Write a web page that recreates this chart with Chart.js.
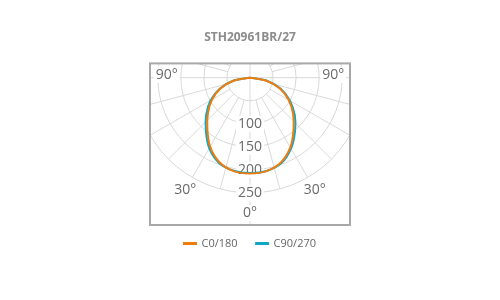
<!DOCTYPE html>
<html>
<head>
<meta charset="utf-8">
<script src="https://cdn.jsdelivr.net/npm/chart.js@4.4.1/dist/chart.umd.min.js"></script>
<style>
html, body { margin: 0; padding: 0; background: #fff; }
</style>
</head>
<body>
<canvas id="chart" width="500" height="300"></canvas>
<script>
const chartTitle = 'STH20961BR/27';

// gamma angle from nadir (deg) and intensity (cd) for each half-plane
const gammaDeg = [0, 10, 20, 30, 40, 50, 60, 70, 80, 90];
const c0 = [208, 206, 196, 175, 147, 122, 97, 69, 35, 0];
const c180 = [208, 206, 195, 173, 144, 119, 95, 68, 35, 0];
const c90 = [207, 206, 198, 178, 152, 127, 100, 71, 36, 0];
const c270 = [207, 205, 197, 177, 149, 124, 99, 70, 36, 0];

const ringValues = [50, 100, 150, 200, 250];
const ringLabels = ['100', '150', '200', '250'];
const angleLabels = ['90°', '30°', '0°', '30°', '90°'];

const ORANGE = '#ef7d0e';
const CYAN = '#0fa7c5';

function polar(g, r) {
  const a = g * Math.PI / 180;
  return { x: r * Math.sin(a), y: -r * Math.cos(a) };
}

// closed curve: left half-plane from 90 down to 0, then right half-plane up to 90
function curve(left, right) {
  const pts = [];
  for (let i = gammaDeg.length - 1; i >= 0; i--) pts.push(polar(-gammaDeg[i], left[i]));
  for (let i = 1; i < gammaDeg.length; i++) pts.push(polar(gammaDeg[i], right[i]));
  return pts;
}

// where the angle labels sit: [gamma, radius in cd]
const angleLabelSpots = [[-92, 181], [-30, 281], [0, 294], [30, 281], [92, 181]];

function labelWithBg(ctx, text, px, py) {
  const w = ctx.measureText(text).width;
  ctx.fillStyle = '#fff';
  ctx.fillRect(px - w / 2 - 2, py - 8, w + 4, 16);
  ctx.fillStyle = '#6a6a6a';
  ctx.fillText(text, px, py);
}

const polarGrid = {
  id: 'polarGrid',
  beforeDatasetsDraw(chart) {
    const { ctx, chartArea: area, scales: { x, y } } = chart;
    const cx = x.getPixelForValue(0), cy = y.getPixelForValue(0);
    const k = x.getPixelForValue(1) - cx;
    ctx.save();
    ctx.beginPath();
    ctx.rect(area.left, area.top, area.width, area.height);
    ctx.clip();

    ctx.strokeStyle = '#d9d9d9';
    ctx.lineWidth = 1;
    ringValues.forEach(v => {
      ctx.beginPath();
      ctx.arc(cx, cy, v * k, 0, Math.PI * 2);
      ctx.stroke();
    });
    for (let g = 0; g < 360; g += 15) {
      const main = g % 90 === 0;
      const r0 = main ? 0 : ringValues[0];
      const r1 = main ? 330 : ringValues[ringValues.length - 1];
      const p0 = polar(g, r0), p1 = polar(g, r1);
      ctx.beginPath();
      ctx.moveTo(x.getPixelForValue(p0.x), y.getPixelForValue(p0.y));
      ctx.lineTo(x.getPixelForValue(p1.x), y.getPixelForValue(p1.y));
      ctx.stroke();
    }

    ctx.font = '14px "Open Sans", "DejaVu Sans", sans-serif';
    ctx.textAlign = 'center';
    ctx.textBaseline = 'middle';
    ringLabels.forEach((t, i) => {
      labelWithBg(ctx, t, cx, y.getPixelForValue(-ringValues[i + 1]));
    });
    angleLabels.forEach((t, i) => {
      const p = polar(angleLabelSpots[i][0], angleLabelSpots[i][1]);
      labelWithBg(ctx, t, x.getPixelForValue(p.x), y.getPixelForValue(p.y));
    });
    ctx.restore();
  },
  afterDatasetsDraw(chart) {
    const { ctx, chartArea: area } = chart;
    ctx.save();
    ctx.strokeStyle = '#a8a8a8';
    ctx.lineWidth = 2;
    ctx.strokeRect(area.left, area.top, area.width, area.height);
    ctx.restore();
  }
};

new Chart(document.getElementById('chart'), {
  type: 'scatter',
  data: {
    datasets: [
      {
        label: 'C0/180',
        data: curve(c180, c0),
        showLine: true,
        borderColor: ORANGE,
        backgroundColor: ORANGE,
        borderWidth: 2,
        pointRadius: 0,
        tension: 0.35
      },
      {
        label: 'C90/270',
        data: curve(c270, c90),
        showLine: true,
        borderColor: CYAN,
        backgroundColor: CYAN,
        borderWidth: 2,
        pointRadius: 0,
        tension: 0.35
      }
    ]
  },
  options: {
    responsive: false,
    animation: false,
    layout: { padding: { left: 150, right: 150, top: 0, bottom: 41 } },
    scales: {
      x: { type: 'linear', min: -217, max: 217, display: false },
      y: { type: 'linear', min: -320, max: 31, display: false }
    },
    plugins: {
      title: {
        display: true,
        text: chartTitle,
        color: '#8c8c8c',
        font: { size: 12, weight: 'bold', family: '"Open Sans", sans-serif' },
        padding: { top: 30, bottom: 19 }
      },
      legend: {
        position: 'bottom',
        labels: {
          boxWidth: 12,
          boxHeight: 1,
          padding: 13,
          color: '#666',
          font: { size: 11, family: '"Open Sans", sans-serif' },
          generateLabels(chart) {
            const items = Chart.defaults.plugins.legend.labels.generateLabels(chart);
            return items.map((it, i) => i < items.length - 1 ? { ...it, text: it.text + '\u2002' } : it);
          }
        }
      },
      tooltip: { enabled: false }
    }
  },
  plugins: [polarGrid]
});
</script>
</body>
</html>
